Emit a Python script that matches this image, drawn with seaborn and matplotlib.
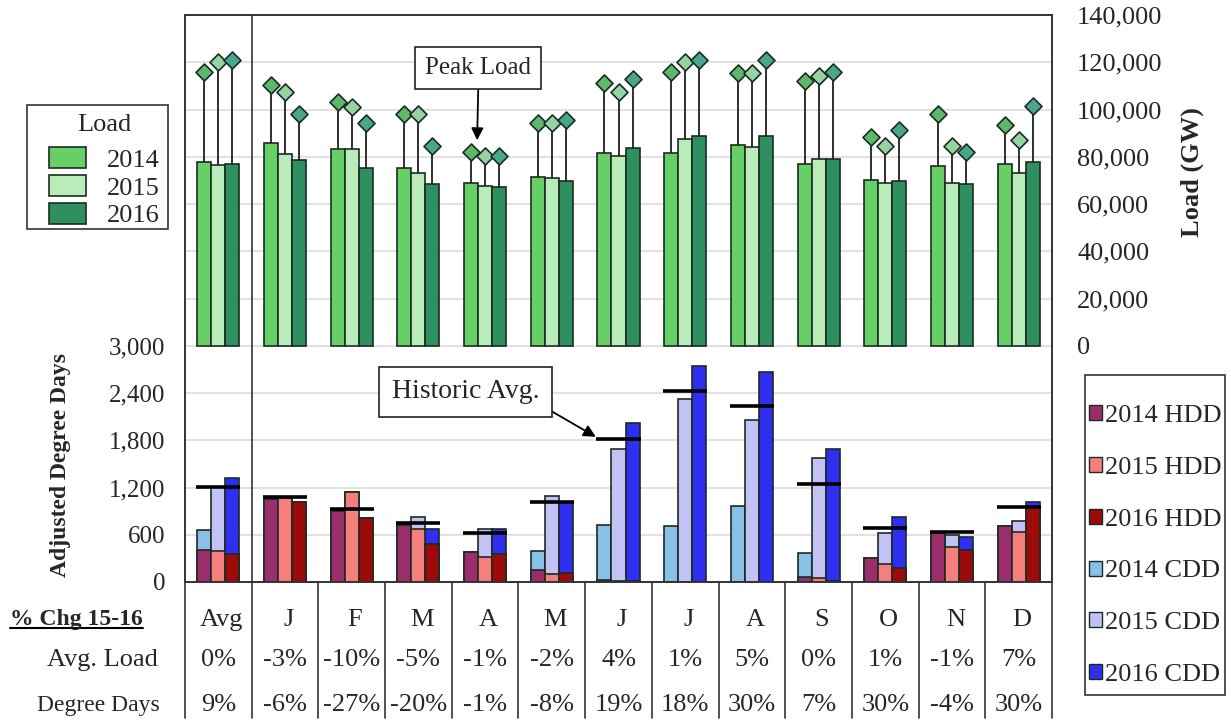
import numpy as np
import pandas as pd
import matplotlib
matplotlib.use("Agg")
import matplotlib.pyplot as plt
import matplotlib.transforms as mtransforms
from matplotlib.patches import Patch, Rectangle
from matplotlib.lines import Line2D
import seaborn as sns

sns.set_style("white")
plt.rcParams['font.family'] = ['Liberation Serif', 'DejaVu Serif']

# ---------------- data ----------------
months = ['Avg', 'J', 'F', 'M', 'A', 'M', 'J', 'J', 'A', 'S', 'O', 'N', 'D']
keys = ['Avg', 'Jan', 'Feb', 'Mar', 'Apr', 'May', 'Jun', 'Jul', 'Aug', 'Sep', 'Oct', 'Nov', 'Dec']
years = ['2014', '2015', '2016']

avg_load_2014 = [77900, 85700, 83200, 75400, 69000, 71600, 81700, 81700, 85000, 76800, 70200, 76100, 76800]
avg_load_2015 = [76500, 81200, 83200, 73000, 67600, 70900, 80300, 87400, 84300, 79100, 68800, 69000, 73000]
avg_load_2016 = [76800, 78600, 75400, 68500, 67100, 69800, 83600, 88800, 88800, 79100, 69800, 68500, 77900]

peak_2014 = [116000, 110300, 103300, 98000, 82200, 94200, 111300, 116000, 115300, 112000, 88200, 98100, 93400]
peak_2015 = [120200, 107500, 101200, 98000, 80300, 94200, 107500, 120200, 115300, 114200, 84700, 84700, 87100]
peak_2016 = [120900, 98100, 94200, 84700, 80300, 95600, 112700, 120900, 120900, 116000, 91300, 82200, 101600]

hdd_2014 = [407, 1051, 906, 724, 385, 153, 25, 5, 5, 67, 309, 627, 716]
hdd_2015 = [398, 1063, 1148, 670, 322, 102, 12, 4, 5, 45, 225, 449, 640]
hdd_2016 = [352, 1013, 810, 483, 352, 118, 18, 3, 3, 12, 174, 407, 944]
cdd_2014 = [254, 0, 0, 0, 0, 241, 695, 712, 965, 305, 0, 0, 0]
cdd_2015 = [806, 0, 0, 160, 348, 991, 1678, 2318, 2054, 1535, 402, 148, 135]
cdd_2016 = [966, 0, 0, 187, 318, 895, 2000, 2742, 2670, 1682, 648, 169, 77]
historic_avg = [1204, 1084, 924, 754, 619, 1013, 1822, 2431, 2241, 1250, 690, 640, 957]

load_chg = ['0%', '-3%', '-10%', '-5%', '-1%', '-2%', '4%', '1%', '5%', '0%', '1%', '-1%', '7%']
dd_chg = ['9%', '-6%', '-27%', '-20%', '-1%', '-8%', '19%', '18%', '30%', '7%', '30%', '-4%', '30%']

left_ticks = [0, 600, 1200, 1800, 2400, 3000]
right_ticks = [0, 20000, 40000, 60000, 80000, 100000, 120000, 140000]

# ---------------- styling ----------------
load_colors = ['#66cf66', '#b8ecb8', '#2e8f5f']
peak_colors = ['#5cb86a', '#95d3a0', '#49a68e']
hdd_colors = ['#9a2e6c', '#f47f7c', '#9c0a0a']
cdd_colors = ['#88c0e8', '#c2c2f4', '#2f2ff2']
edge = '#1c2b22'
FRAME = '#333333'

def long(vals_by_year, name):
    rows = []
    for y, vals in zip(years, vals_by_year):
        for k, v in zip(keys, vals):
            rows.append({'month': k, 'year': y, name: v})
    return pd.DataFrame(rows)

df_load = long([avg_load_2014, avg_load_2015, avg_load_2016], 'load')
df_hdd = long([hdd_2014, hdd_2015, hdd_2016], 'dd')
tot = [np.add(h, c) for h, c in zip([hdd_2014, hdd_2015, hdd_2016], [cdd_2014, cdd_2015, cdd_2016])]
df_tot = long(tot, 'dd')

W, H = 1231, 721
fig = plt.figure(figsize=(W / 100, H / 100), dpi=100)
ax = fig.add_axes([185 / W, 1 - 582 / H, (1052 - 185) / W, (582 - 15) / H])
ax2 = ax.twinx()
ax2.patch.set_visible(False)

GW = 0.63
BW = GW / 3
offs = (np.arange(3) - 1) * BW
xpos = np.arange(len(keys))

# grid on the degree-day axes
grid_vals = np.arange(0, 7201, 600)
ax.set_ylim(0, 7200)
ax.set_yticks(grid_vals)
ax.set_yticklabels([f'{t:,}' if t in left_ticks else '' for t in grid_vals])
ax.yaxis.grid(True, color='#dcdcdc', lw=1.2)
ax.set_axisbelow(True)

# stacked degree days: total (CDD colour) then HDD on top
sns.barplot(data=df_tot, x='month', y='dd', hue='year', order=keys, hue_order=years,
            palette=cdd_colors, width=GW, saturation=1, edgecolor=edge, linewidth=1.2,
            legend=False, ax=ax, zorder=2)
sns.barplot(data=df_hdd, x='month', y='dd', hue='year', order=keys, hue_order=years,
            palette=hdd_colors, width=GW, saturation=1, edgecolor=edge, linewidth=1.2,
            legend=False, ax=ax, zorder=3)
ax.hlines(historic_avg, xpos - 0.33, xpos + 0.33, color='black', lw=2.6, zorder=5)

# load bars
sns.barplot(data=df_load, x='month', y='load', hue='year', order=keys, hue_order=years,
            palette=load_colors, width=GW, saturation=1, edgecolor=edge, linewidth=1.2,
            legend=False, ax=ax2, zorder=2)
ax2.set_ylim(-100000, 140000)
for j, (avgs, peaks) in enumerate(zip([avg_load_2014, avg_load_2015, avg_load_2016],
                                      [peak_2014, peak_2015, peak_2016])):
    ax2.vlines(xpos + offs[j], avgs, peaks, color='#202020', lw=1.3, zorder=3)
    ax2.scatter(xpos + offs[j], peaks, marker='D', s=75, color=peak_colors[j],
                edgecolor=edge, linewidth=1.2, zorder=4)

ax.set_xlim(-0.5, len(keys) - 0.5)
ax2.set_xlim(-0.5, len(keys) - 0.5)
ax2.set_yticks(right_ticks)
ax2.set_yticklabels([f'{t:,}' for t in right_ticks])

for a in (ax, ax2):
    a.set_xlabel('')
    a.set_ylabel('')
    a.set_xticks([])
    for s in a.spines.values():
        s.set_color(FRAME)
        s.set_linewidth(1.2)
ax.tick_params(axis='y', length=0, pad=14, labelsize=18)
ax2.tick_params(axis='y', length=0, pad=18, labelsize=19)

ax.axvline(0.5, color=FRAME, lw=1.2, zorder=6)

# annotations
ax2.annotate('Peak Load', xy=(3.88, 87000), xytext=(3.9, 117500), ha='center', va='center',
             fontsize=18,
             bbox=dict(boxstyle='square,pad=0.4', fc='white', ec='#222222', lw=1.2),
             arrowprops=dict(arrowstyle='-|>', color='black', lw=1.3, relpos=(0.5, 0),
                             mutation_scale=18, shrinkA=0, shrinkB=0), zorder=10)
ax.annotate('Historic Avg.', xy=(5.66, 1843), xytext=(3.71, 2415), ha='center', va='center',
            fontsize=20,
            bbox=dict(boxstyle='square,pad=0.45', fc='white', ec='#222222', lw=1.2),
            arrowprops=dict(arrowstyle='-|>', color='black', lw=1.3, relpos=(1, 0),
                            mutation_scale=18, shrinkA=0, shrinkB=0), zorder=10)

# axis titles
fig.text(61 / W, 1 - 465 / H, 'Adjusted Degree Days', rotation=90, ha='center', va='center',
         fontsize=17, fontweight='bold')
fig.text(1192 / W, 1 - 172 / H, 'Load (GW)', rotation=90, ha='center', va='center',
         fontsize=19, fontweight='bold')

# legends (frames drawn as separate boxes)
def box(x0, y0, x1, y1):
    fig.add_artist(Rectangle((x0 / W, 1 - y1 / H), (x1 - x0) / W, (y1 - y0) / H,
                             transform=fig.transFigure, fill=False, ec=FRAME, lw=1.2))

load_handles = [Patch(facecolor=c, edgecolor=edge, lw=1.2, label=y) for c, y in zip(load_colors, years)]
leg1 = fig.legend(handles=load_handles, title='Load', loc='upper left',
                  bbox_to_anchor=(49 / W, 1 - 114 / H), fontsize=19, title_fontsize=19,
                  frameon=False, labelspacing=0.12, handlelength=1.4, handleheight=0.85,
                  handletextpad=0.8, borderpad=0, borderaxespad=0)
leg1._legend_box.sep = 8
box(27, 105, 168, 229)

dd_handles = [Patch(facecolor=c, edgecolor=edge, lw=1.0, label=f'{y} HDD') for c, y in zip(hdd_colors, years)]
dd_handles += [Patch(facecolor=c, edgecolor=edge, lw=1.0, label=f'{y} CDD') for c, y in zip(cdd_colors, years)]
leg2 = fig.legend(handles=dd_handles, loc='upper left', bbox_to_anchor=(1089 / W, 1 - 405 / H),
                  fontsize=19, frameon=False, labelspacing=1.13, handlelength=0.5,
                  handleheight=0.5, handletextpad=0.1, borderpad=0, borderaxespad=0)
box(1085, 375, 1225, 695)

# table below
tr = mtransforms.blended_transform_factory(ax.transData, fig.transFigure)
row_y = [1 - 620 / H, 1 - 660 / H, 1 - 705 / H]
for i in range(len(keys)):
    ax.text(i + 0.05, row_y[0], months[i], transform=tr, ha='center', va='center', fontsize=19)
    ax.text(i, row_y[1], load_chg[i], transform=tr, ha='center', va='center', fontsize=19)
    ax.text(i, row_y[2], dd_chg[i], transform=tr, ha='center', va='center', fontsize=19)
for b in np.arange(-0.5, len(keys), 1.0):
    ax.add_line(Line2D([b, b], [1 - 582 / H, 1 - 718 / H], transform=tr, color=FRAME,
                       lw=1.2, clip_on=False))

t0 = fig.text(10 / W, row_y[0], '% Chg 15-16', ha='left', va='center', fontsize=17,
              fontweight='bold')
fig.text(158 / W, row_y[1], 'Avg. Load', ha='right', va='center', fontsize=19)
fig.text(160 / W, row_y[2], 'Degree Days', ha='right', va='center', fontsize=17)
fig.canvas.draw()
bb = t0.get_window_extent().transformed(fig.transFigure.inverted())
fig.add_artist(Line2D([bb.x0, bb.x1], [bb.y0 + 0.004, bb.y0 + 0.004], transform=fig.transFigure,
                      color='black', lw=1.5))

fig.savefig('out.png', dpi=100)
